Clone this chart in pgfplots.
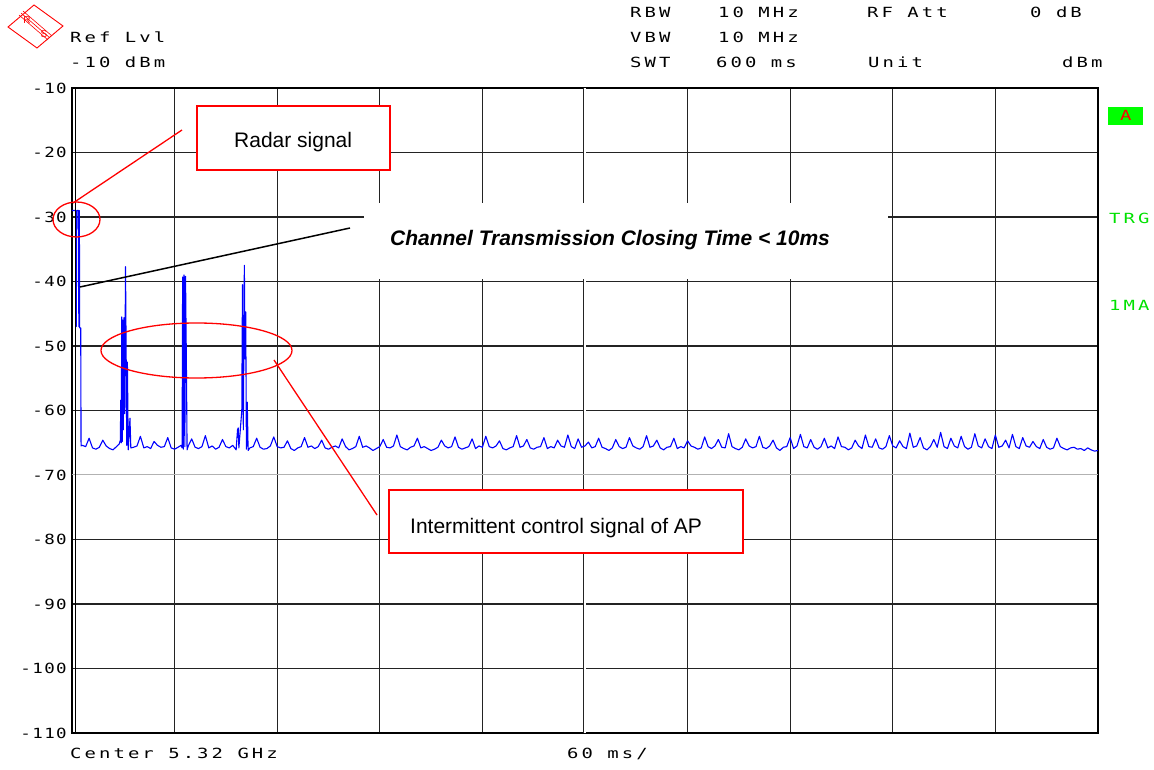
\documentclass[border=0pt]{standalone}
\usepackage{pgfplots}
\pgfplotsset{compat=1.18}
\usepackage{pgfplotstable}
\usepackage{fontspec}
\setmainfont{Liberation Sans}
\newfontfamily\instrfont[LetterSpace=22, FakeStretch=1.35]{DejaVu Sans Mono}
\newfontfamily\tickfontfam[LetterSpace=10, FakeStretch=1.25]{DejaVu Sans Mono}
\newcommand\instr{\instrfont\fontsize{14}{17}\selectfont}
\newcommand\tickf{\tickfontfam\fontsize{14}{17}\selectfont}
\definecolor{rsgreen}{RGB}{0,225,0}
\definecolor{gridc}{RGB}{35,35,35}

\pgfplotstableread{
x y
0 -29.0
2.3 -29.0
2.5 -47.0
2.8 -29.0
3.8 -29.0
4.0 -47.0
4.3 -29.0
4.5 -47.2
5.1 -47.2
5.3 -65.5
6 -65.4
8 -65.6
10 -64.3
12 -65.8
14 -66.0
16 -65.7
18 -64.6
20 -65.5
22 -65.9
24 -66.1
26 -65.6
27.6 -65.2
28.3 -64.6
28.5 -58.4
28.8 -65.0
29.1 -45.5
29.4 -64.8
29.7 -46.0
30.0 -63.0
30.4 -45.6
30.8 -60.5
31.3 -37.7
31.7 -52.2
32.0 -65.4
32.4 -52.5
32.9 -66.1
33.9 -61.2
34.4 -65.8
36 -65.7
38 -65.5
40 -64.0
42 -65.8
44 -65.6
46 -65.9
48 -64.8
50 -65.4
52 -65.7
54 -65.6
56 -64.2
58 -65.8
60 -66.0
62 -65.7
63.8 -65.4
64.4 -65.8
64.7 -39.3
65.1 -66.0
65.5 -39.0
66.0 -65.6
66.4 -39.2
66.9 -52.6
67.3 -66.1
68 -65.5
70 -64.4
72 -65.7
74 -65.9
76 -65.6
78 -63.9
80 -65.8
82 -65.5
84 -66.0
86 -65.7
88 -64.5
90 -65.6
92 -65.8
94 -65.4
96 -66.1
96.8 -63.0
97.2 -62.7
97.6 -65.8
99.3 -60.0
99.7 -40.5
100.2 -63.0
100.8 -37.5
101.2 -52.0
101.6 -44.7
102.0 -66.0
102.5 -58.7
103.0 -66.2
104 -65.8
106 -65.6
108 -64.3
110 -65.7
112 -66.0
114 -65.9
116 -65.5
118 -64.1
120 -65.6
122 -65.8
124 -65.7
126 -64.7
128 -65.9
130 -66.2
132 -65.8
134 -65.6
136 -64.2
138 -65.7
140 -65.5
142 -65.9
144 -65.6
146 -64.6
148 -65.8
150 -66.0
152 -65.7
154 -65.5
156 -65.8
158 -64.4
160 -65.6
162 -66.1
164 -65.9
166 -65.6
168 -64.0
170 -65.7
172 -65.5
174 -65.8
176 -66.2
178 -65.9
180 -65.6
182 -64.5
184 -65.7
186 -65.8
188 -65.5
190 -63.8
192 -65.6
194 -65.9
196 -66.1
198 -65.7
200 -65.5
202 -64.3
204 -65.8
206 -65.6
208 -65.9
210 -66.2
212 -66.0
214 -65.7
216 -64.6
218 -65.5
220 -65.8
222 -65.6
224 -64.1
226 -65.7
228 -66.0
230 -65.8
232 -65.6
234 -64.4
236 -65.9
238 -65.5
240 -65.7
242 -64.0
244 -65.6
246 -65.8
248 -65.5
250 -64.7
252 -65.9
254 -66.1
256 -65.8
258 -65.6
260 -63.9
262 -65.7
264 -65.5
266 -64.5
268 -65.8
270 -66.0
272 -65.7
274 -65.6
276 -64.2
278 -65.9
280 -65.6
282 -65.8
284 -64.6
286 -65.5
288 -65.7
290 -63.8
292 -65.6
294 -65.9
296 -64.4
298 -65.7
300 -65.5
302 -64.9
304 -65.8
306 -65.6
308 -64.3
310 -65.7
312 -65.9
314 -66.2
316 -65.8
318 -64.5
320 -65.6
322 -65.9
324 -65.7
326 -64.2
328 -65.5
330 -65.8
332 -66.0
334 -65.6
336 -63.9
338 -65.7
340 -65.5
342 -64.6
344 -65.8
346 -66.1
348 -65.7
350 -65.6
352 -64.3
354 -65.9
356 -65.6
358 -65.8
360 -64.7
362 -65.5
364 -65.7
366 -66.0
368 -65.8
370 -64.1
372 -65.6
374 -65.9
376 -65.5
378 -64.5
380 -65.7
382 -65.8
384 -63.6
386 -65.6
388 -65.9
390 -66.1
392 -65.7
394 -64.4
396 -65.5
398 -65.8
400 -65.6
402 -64.0
404 -65.7
406 -65.9
408 -65.5
410 -64.6
412 -65.8
414 -66.2
416 -65.7
418 -65.6
420 -64.2
422 -65.9
424 -65.5
426 -63.7
428 -65.6
430 -65.8
432 -64.5
434 -65.7
436 -66.0
438 -65.6
440 -64.3
442 -65.8
444 -65.5
446 -65.9
448 -64.1
450 -65.6
452 -65.7
454 -66.1
456 -65.8
458 -64.6
460 -65.5
462 -65.9
464 -63.8
466 -65.6
468 -65.7
470 -64.4
472 -65.8
474 -66.0
476 -65.6
478 -63.9
480 -65.5
482 -65.8
484 -64.7
486 -65.6
488 -65.9
490 -63.5
492 -65.7
494 -65.5
496 -64.2
498 -65.8
500 -66.1
502 -65.6
504 -64.5
506 -65.7
508 -63.4
510 -65.6
512 -65.9
514 -64.3
516 -65.5
518 -65.8
520 -64.0
522 -65.6
524 -66.0
526 -65.7
528 -63.6
530 -65.5
532 -65.8
534 -64.4
536 -65.6
538 -65.9
540 -63.8
542 -65.7
544 -65.5
546 -64.6
548 -65.8
550 -63.7
552 -65.6
554 -65.9
556 -64.2
558 -65.5
560 -65.7
562 -64.8
564 -65.6
566 -65.9
568 -64.5
570 -65.7
572 -66.0
574 -65.8
576 -64.3
578 -65.6
580 -65.9
582 -66.1
584 -65.8
586 -65.7
588 -66.0
590 -65.9
592 -66.2
594 -65.8
596 -66.1
598 -66.3
600 -66.2
}\trace

\begin{document}
\begin{tikzpicture}[x=1pt,y=1pt]
\useasboundingbox (-72,-36) rectangle (1082,733);
\begin{axis}[at={(0pt,0pt)}, anchor=south west, scale only axis,
  width=1026pt, height=645pt,
  xmin=0, xmax=600, ymin=-110, ymax=-10,
  xtick={60,120,180,240,360,420,480,540}, xticklabels={},
  extra x ticks={300}, extra x tick labels={},
  extra x tick style={grid=major, major grid style={draw=gridc, line width=0.8pt, double=white, double distance=1.4pt}},
  ytick={-110,-100,-90,-80,-60,-50,-40,-30,-20,-10},
  yticklabels={-110,-100,-90,-80,-60,-50,-40,-30,-20,-10},
  extra y ticks={-70}, extra y tick labels={-70},
  extra y tick style={grid=major, major grid style={draw=black!30, line width=1pt}},
  grid=major, major grid style={draw=gridc, line width=1.3pt},
  major tick length=0pt,
  axis line style={line width=2pt, draw=black},
  yticklabel style={font=\tickf, inner sep=0pt, xshift=-5pt},
]
\addplot[blue, line width=1.1pt, line join=round, mark=none] table[x=x,y=y]{\trace};
\end{axis}
\begin{scope}[shift={(-72pt,733pt)}, x=1pt, y=-1pt]
  % inner left border line
  \draw[line width=0.8pt] (75.5,88) -- (75.5,733);
  % white label box
  \fill[white] (364,203) rectangle (888,279);
  \node[anchor=base, inner sep=0pt, font=\fontsize{21}{25}\selectfont\bfseries\itshape] at (610,246) {Channel Transmission Closing Time < 10ms};
  \draw[black, line width=1.5pt] (80,287) -- (350,228);
  % red annotations
  \draw[red, line width=1.3pt] (76.5,219.5) ellipse [x radius=23.5pt, y radius=17.5pt];
  \draw[red, line width=1.3pt] (196.5,350.5) ellipse [x radius=95.5pt, y radius=27.5pt];
  \draw[red, line width=1.3pt] (73,203) -- (182,130);
  \draw[red, line width=1.3pt] (274,360) -- (377,515);
  \draw[red, line width=1.5pt, fill=white] (197,106) rectangle (390,170);
  \node[anchor=base west, inner sep=0pt, font=\fontsize{21}{25}\selectfont] at (234,148) {Radar signal};
  \draw[red, line width=1.5pt, fill=white] (389,490) rectangle (743,553);
  \node[anchor=base west, inner sep=0pt, font=\fontsize{21}{25}\selectfont] at (410,533) {Intermittent control signal of AP};
  % header
  \node[anchor=base west, inner sep=0pt, font=\instr] at (70,43) {Ref Lvl};
  \node[anchor=base west, inner sep=0pt, font=\instr] at (70,68) {-10 dBm};
  \node[anchor=base west, inner sep=0pt, font=\instr] at (630,18) {RBW};
  \node[anchor=base west, inner sep=0pt, font=\instr] at (718,18) {10 MHz};
  \node[anchor=base west, inner sep=0pt, font=\instr] at (867,18) {RF Att};
  \node[anchor=base west, inner sep=0pt, font=\instr] at (1030,18) {0 dB};
  \node[anchor=base west, inner sep=0pt, font=\instr] at (630,43) {VBW};
  \node[anchor=base west, inner sep=0pt, font=\instr] at (718,43) {10 MHz};
  \node[anchor=base west, inner sep=0pt, font=\instr] at (630,68) {SWT};
  \node[anchor=base west, inner sep=0pt, font=\instr] at (716,68) {600 ms};
  \node[anchor=base west, inner sep=0pt, font=\instr] at (868,68) {Unit};
  \node[anchor=base west, inner sep=0pt, font=\instr] at (1062,68) {dBm};
  % footer
  \node[anchor=base west, inner sep=0pt, font=\instr] at (70,758) {Center 5.32 GHz};
  \node[anchor=base west, inner sep=0pt, font=\instr] at (567,758) {60 ms/};
  % right side markers
  \fill[green] (1108,107) rectangle (1143,125);
  \node[anchor=base west, inner sep=0pt, text=red, font=\instr] at (1120,121) {A};
  \node[anchor=base west, inner sep=0pt, text=rsgreen, font=\instr] at (1109,224) {TRG};
  \node[anchor=base west, inner sep=0pt, text=rsgreen, font=\instr] at (1109,311) {1MA};
  % logo
  \draw[red, line width=0.9pt] (8,27) -- (34,5) -- (63,26) -- (37,48) -- cycle;
  \draw[red, line width=0.6pt] (21,13) -- (50,38);
  \draw[red, line width=0.6pt] (23,11) -- (52,36);
  \draw[red, line width=0.6pt] (19,15) -- (48,40);
  \node[red, inner sep=0pt, font=\fontsize{10}{10}\selectfont] at (27,20) {R};
  \node[red, inner sep=0pt, font=\fontsize{10}{10}\selectfont] at (44,34) {S};
\end{scope}
\end{tikzpicture}
\end{document}
